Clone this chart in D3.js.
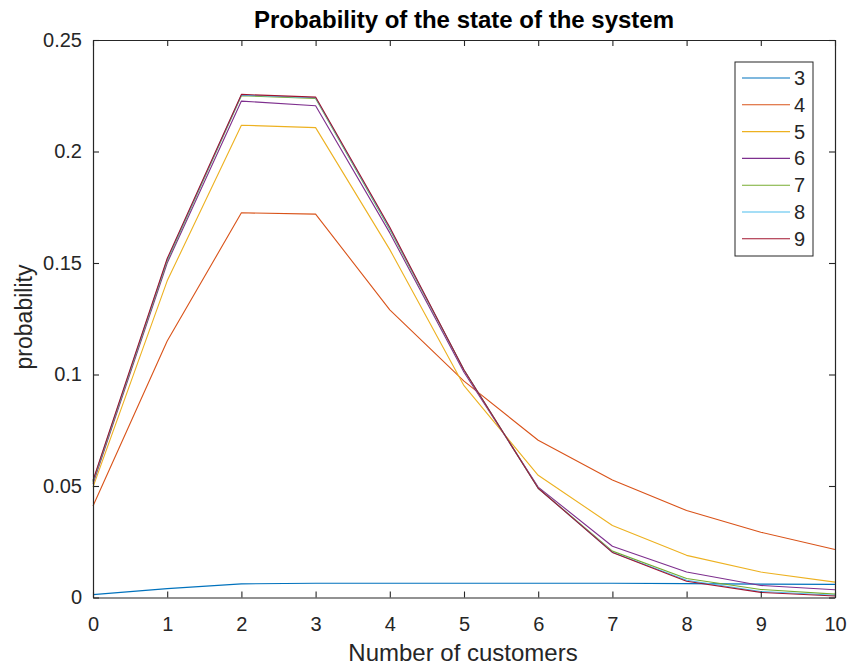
<!DOCTYPE html>
<html>
<head>
<meta charset="utf-8">
<script src="https://cdn.jsdelivr.net/npm/d3@7"></script>
<style>
  html, body { margin: 0; padding: 0; background: #fff; }
  svg { display: block; font-family: "Liberation Sans", Arial, Helvetica, sans-serif; }
</style>
</head>
<body>
<svg id="chart" width="847" height="667"></svg>
<script>
// ---- data ----
const customers = [0, 1, 2, 3, 4, 5, 6, 7, 8, 9, 10];
const seriesNames = ["3", "4", "5", "6", "7", "8", "9"];
const s3 = [0.0013, 0.0040, 0.0061, 0.0064, 0.0064, 0.0064, 0.0064, 0.0064, 0.0062, 0.0060, 0.0059];
const s4 = [0.0410, 0.1150, 0.1725, 0.1719, 0.1290, 0.0970, 0.0705, 0.0527, 0.0390, 0.0293, 0.0215];
const s5 = [0.0495, 0.1420, 0.2118, 0.2107, 0.1560, 0.0950, 0.0548, 0.0323, 0.0189, 0.0114, 0.0069];
const s6 = [0.0510, 0.1500, 0.2226, 0.2205, 0.1635, 0.1010, 0.0495, 0.0230, 0.0114, 0.0054, 0.0035];
const s7 = [0.0518, 0.1510, 0.2250, 0.2238, 0.1650, 0.1020, 0.0490, 0.0208, 0.0085, 0.0036, 0.0015];
const s8 = [0.0522, 0.1515, 0.2253, 0.2241, 0.1655, 0.1020, 0.0490, 0.0203, 0.0077, 0.0027, 0.0010];
const s9 = [0.0525, 0.1520, 0.2256, 0.2244, 0.1660, 0.1020, 0.0490, 0.0202, 0.0073, 0.0023, 0.0007];
const seriesValues = [s3, s4, s5, s6, s7, s8, s9];
const colors = ["#0072BD", "#D95319", "#EDB120", "#7E2F8E", "#77AC30", "#4DBEEE", "#A2142F"];
const xTicks = [0, 1, 2, 3, 4, 5, 6, 7, 8, 9, 10];
const yTicks = [0, 0.05, 0.1, 0.15, 0.2, 0.25];
const yTickLabels = ["0", "0.05", "0.1", "0.15", "0.2", "0.25"];
const titleText = "Probability of the state of the system";
const xLabelText = "Number of customers";
const yLabelText = "probability";

// ---- layout ----
const L = 93, R = 835, T = 40, B = 597.5;
const axisColor = "#262626";
const svg = d3.select("#chart");

const x = d3.scaleLinear().domain([0, 10]).range([L, R]);
const y = d3.scaleLinear().domain([0, 0.25]).range([B, T]);

// series lines
const line = d3.line().x((d, i) => x(customers[i])).y(d => y(d));
svg.append("g").selectAll("path")
  .data(seriesValues)
  .join("path")
  .attr("d", d => line(d))
  .attr("fill", "none")
  .attr("stroke", (d, i) => colors[i])
  .attr("stroke-width", 1.1)
  .attr("stroke-linejoin", "round");

// axes
const tickFmtY = (d, i) => yTickLabels[yTicks.indexOf(d)];
const gx = svg.append("g").attr("transform", `translate(0,${B})`)
  .call(d3.axisBottom(x).tickValues(xTicks).tickFormat(d3.format("d")).tickSizeInner(-6).tickSizeOuter(0).tickPadding(19));
const gxTop = svg.append("g").attr("transform", `translate(0,${T})`)
  .call(d3.axisTop(x).tickValues(xTicks).tickFormat("").tickSizeInner(-6).tickSizeOuter(0));
const gy = svg.append("g").attr("transform", `translate(${L},0)`)
  .call(d3.axisLeft(y).tickValues(yTicks).tickFormat(tickFmtY).tickSizeInner(-6).tickSizeOuter(0).tickPadding(11));
const gyRight = svg.append("g").attr("transform", `translate(${R},0)`)
  .call(d3.axisRight(y).tickValues(yTicks).tickFormat("").tickSizeInner(-6).tickSizeOuter(0));

[gx, gxTop, gy, gyRight].forEach(g => {
  g.selectAll("path.domain").attr("stroke", axisColor).attr("stroke-width", 1.2);
  g.selectAll(".tick line").attr("stroke", axisColor).attr("stroke-width", 1.1);
  g.selectAll(".tick text").attr("fill", axisColor).style("font-size", "20px")
    .style("font-family", '"Liberation Sans", Arial, sans-serif');
});

// title and labels
svg.append("text")
  .attr("x", 464).attr("y", 28)
  .attr("text-anchor", "middle")
  .style("font-size", "24px").style("font-weight", "bold")
  .attr("fill", "#000")
  .text(titleText);

svg.append("text")
  .attr("x", 463).attr("y", 661)
  .attr("text-anchor", "middle")
  .style("font-size", "24px")
  .attr("fill", axisColor)
  .text(xLabelText);

svg.append("text")
  .attr("transform", `translate(32,317) rotate(-90)`)
  .attr("text-anchor", "middle")
  .style("font-size", "23px")
  .attr("fill", axisColor)
  .text(yLabelText);

// legend
const legX = 735, legY = 62, legW = 78, legH = 194;
const lg = svg.append("g");
lg.append("rect")
  .attr("x", legX).attr("y", legY).attr("width", legW).attr("height", legH)
  .attr("fill", "#fff").attr("stroke", axisColor).attr("stroke-width", 1);
const step = 26.8;
const items = lg.selectAll("g.item").data(seriesNames).join("g")
  .attr("class", "item")
  .attr("transform", (d, i) => `translate(0,${78 + i * step})`);
items.append("line")
  .attr("x1", 742).attr("x2", 790).attr("y1", 0).attr("y2", 0)
  .attr("stroke", (d, i) => colors[i]).attr("stroke-width", 1.1);
items.append("text")
  .attr("x", 794).attr("y", 0).attr("dy", "0.35em")
  .style("font-size", "20px")
  .attr("fill", axisColor)
  .text(d => d);
</script>
</body>
</html>
